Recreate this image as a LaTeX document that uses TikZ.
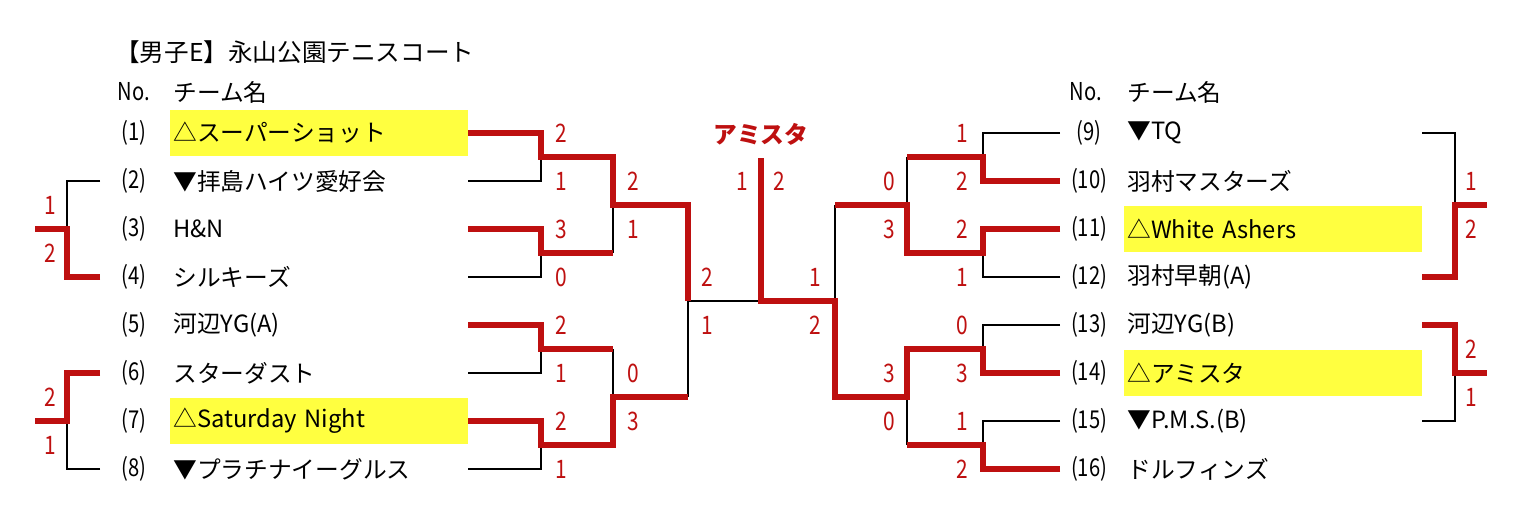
\documentclass[tikz,border=0pt]{standalone}
\usepackage{fontspec}
\setmainfont{Noto Sans CJK JP}
\newfontfamily\narrowfont{Noto Sans CJK JP}[FakeStretch=0.82]
\usepackage{tikz}
\definecolor{winred}{RGB}{190,16,16}
\definecolor{hilite}{RGB}{255,255,64}
\tikzset{
  team/.style={anchor=west, inner xsep=0.06cm, inner ysep=0pt, minimum height=0.94cm, font=\fontsize{13.5pt}{16pt}\selectfont},
  seed/.style={team, fill=hilite, text width=5.84cm},
  num/.style={inner sep=0pt, font=\narrowfont\fontsize{14pt}{16pt}\selectfont},
  score/.style={inner sep=0pt, text=winred, font=\narrowfont\fontsize{14.5pt}{16pt}\selectfont},
  win/.style={draw=winred, line width=0.12cm},
  lose/.style={draw=black, line width=0.03cm},
}

\begin{document}
\begin{tikzpicture}[x=0.02cm, y=-0.02cm]
\useasboundingbox (0,0) rectangle (1525,530);

\node (title) [anchor=west, inner sep=0pt, font=\fontsize{14pt}{16pt}\selectfont] at (115,52) {【男子E】永山公園テニスコート};
\node (noL) [num] at (134,92) {No.};
\node (headL) [team] at (170,92) {チーム名};
\node (noR) [num] at (1086,92) {No.};
\node (headR) [team] at (1124,92) {チーム名};

\foreach \i/\name/\st in {1/△スーパーショット/seed, 2/▼拝島ハイツ愛好会/team, 3/H\&N/team,
  4/シルキーズ/team, 5/河辺YG(A)/team, 6/スターダスト/team, 7/△Saturday Night/seed,
  8/▼プラチナイーグルス/team} {
  \node (n\i) [num] at (134,{133+48*(\i-1)}) {(\i)};
  \node (t\i) [\st] at (170,{133+48*(\i-1)}) {\name};
  \coordinate (e\i) at (468,{133+48*(\i-1)});
}
\foreach \i/\name/\st in {9/▼TQ/team, 10/羽村マスターズ/team, 11/△White Ashers/seed,
  12/羽村早朝(A)/team, 13/河辺YG(B)/team, 14/△アミスタ/seed, 15/▼P.M.S.(B)/team,
  16/ドルフィンズ/team} {
  \node (n\i) [num] at (1089,{133+48*(\i-9)}) {(\i)};
  \node (t\i) [\st] at (1124,{133+48*(\i-9)}) {\name};
  \coordinate (e\i) at (1060,{133+48*(\i-9)});
}

% junctions
\coordinate (j1) at (541,157); \coordinate (j2) at (541,253);
\coordinate (j3) at (541,349); \coordinate (j4) at (541,445);
\coordinate (k1) at (613,205); \coordinate (k2) at (613,397);
\coordinate (q1) at (688,301);
\coordinate (f) at (761,301); \coordinate (ftop) at (761,158);
\coordinate (q2) at (835,301);
\coordinate (k3) at (907,205); \coordinate (k4) at (907,397);
\coordinate (j5) at (983,157); \coordinate (j6) at (983,253);
\coordinate (j7) at (983,349); \coordinate (j8) at (983,445);

% left half
\draw [lose] (e2) -| (j1);
\draw [lose] (e4) -| (j2);
\draw [lose] (e6) -| (j3);
\draw [lose] (e8) -| (j4);
\draw [lose] (j2 -| k1) -- (k1);
\draw [lose] (j3 -| k2) -- (k2);
\draw [lose] (k2 -| q1) -- (q1);
\draw [lose] (q1) -- (f);
\draw [win] (e1) -| (j1) -| (k1) -| (q1);
\draw [win] (e3) -| (j2) -- (j2 -| k1);
\draw [win] (e5) -| (j3) -- (j3 -| k2);
\draw [win] (e7) -| (j4) -| (k2) -- (k2 -| q1);

% right half
\draw [lose] (e9) -| (j5);
\draw [lose] (e12) -| (j6);
\draw [lose] (e13) -| (j7);
\draw [lose] (e15) -| (j8);
\draw [lose] (j5 -| k3) -- (k3);
\draw [lose] (j8 -| k4) -- (k4);
\draw [lose] (k3 -| q2) -- (q2);
\draw [win] (e10) -| (j5) -- (j5 -| k3);
\draw [win] (e11) -| (j6) -| (k3) -- (k3 -| q2);
\draw [win] (e16) -| (j8) -- (j8 -| k4);
\draw [win] (e14) -| (j7) -| (k4) -| (q2) -- (f) -- (ftop);

% side brackets
\coordinate (o2) at (100,181); \coordinate (o4) at (100,277);
\coordinate (c1) at (67,229); \coordinate (s1) at (35,229);
\coordinate (o6) at (100,373); \coordinate (o8) at (100,469);
\coordinate (c2) at (67,421); \coordinate (s2) at (35,421);
\coordinate (o9) at (1422,133); \coordinate (o12) at (1422,277);
\coordinate (c3) at (1455,205); \coordinate (s3) at (1487,205);
\coordinate (o13) at (1422,325); \coordinate (o15) at (1422,421);
\coordinate (c4) at (1455,373); \coordinate (s4) at (1487,373);
\draw [lose] (o2) -| (c1);
\draw [win] (o4) -| (c1) -- (s1);
\draw [lose] (o8) -| (c2);
\draw [win] (o6) -| (c2) -- (s2);
\draw [lose] (o9) -| (c3);
\draw [win] (o12) -| (c3) -- (s3);
\draw [lose] (o15) -| (c4);
\draw [win] (o13) -| (c4) -- (s4);

% scores
\foreach \n/\x/\y/\v in {a1/561/133/2, a2/561/181/1, a3/561/229/3, a4/561/277/0,
  a5/561/325/2, a6/561/373/1, a7/561/421/2, a8/561/469/1,
  b1/633/181/2, b2/633/229/1, b3/633/373/0, b4/633/421/3,
  c1/707/277/2, c2/707/325/1, d1/742/181/1, d2/779/181/2,
  c3/815/277/1, c4/815/325/2,
  b5/889/181/0, b6/889/229/3, b7/889/373/3, b8/889/421/0,
  a9/962/133/1, a10/962/181/2, a11/962/229/2, a12/962/277/1,
  a13/962/325/0, a14/962/373/3, a15/962/421/1, a16/962/469/2,
  x1/50/205/1, x2/50/253/2, x3/50/397/2, x4/50/445/1,
  y1/1471/181/1, y2/1471/229/2, y3/1471/349/2, y4/1471/397/1} {
  \node (sc\n) [score] at (\x,\y) {\v};
}
\node (champ) [score, font=\fontsize{13.5pt}{16pt}\selectfont\bfseries] at (761,134) {アミスタ};
\end{tikzpicture}
\end{document}
